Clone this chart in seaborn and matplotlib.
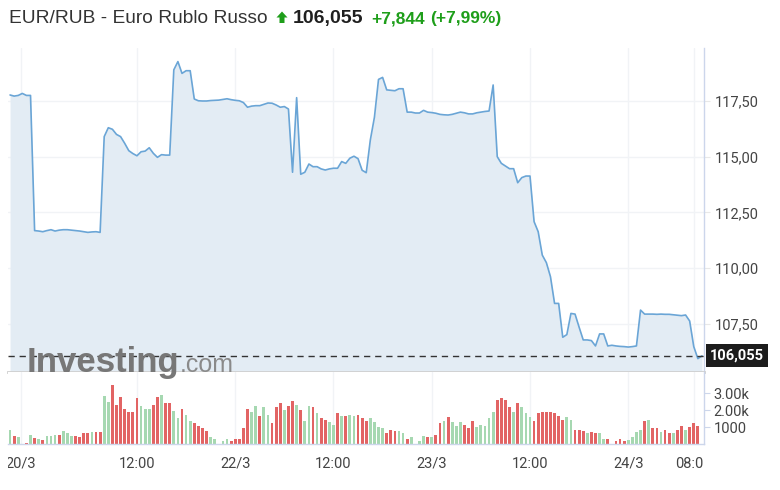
import numpy as np
import pandas as pd
import matplotlib.pyplot as plt
from matplotlib.patches import Polygon
from matplotlib.transforms import Bbox, TransformedBbox, blended_transform_factory
import seaborn as sns

# --- Data ---
TITLE = "EUR/RUB - Euro Rublo Russo"
LAST_PRICE = 106.055
LAST_PRICE_TEXT = "106,055"
CHANGE_TEXT = "+7,844"
CHANGE_PCT_TEXT = "(+7,99%)"

# close price, one value per 30 min slot
PRICE = [
    117.77, 117.72, 117.75, 117.84, 117.75, 117.75, 111.68, 111.66, 111.63, 111.68,
    111.72, 111.66, 111.70, 111.72, 111.72, 111.70, 111.68, 111.66, 111.63, 111.60,
    111.62, 111.63, 111.60, 115.90, 116.30, 116.23, 116.00, 115.90, 115.60, 115.27,
    115.14, 115.04, 115.22, 115.25, 115.40, 115.15, 114.97, 115.09, 115.07, 115.07,
    118.90, 119.27, 118.74, 118.86, 118.86, 117.59, 117.51, 117.50, 117.50, 117.52,
    117.53, 117.54, 117.57, 117.60, 117.56, 117.53, 117.51, 117.43, 117.22, 117.27,
    117.29, 117.29, 117.35, 117.41, 117.40, 117.32, 117.22, 117.25, 117.14, 114.30,
    117.65, 114.21, 114.30, 114.67, 114.55, 114.55, 114.45, 114.40, 114.45, 114.48,
    114.48, 114.78, 114.70, 114.93, 115.02, 114.91, 114.39, 114.28, 115.75, 116.77,
    118.47, 118.56, 118.00, 117.98, 117.96, 118.05, 118.05, 117.00, 117.00, 116.96,
    116.96, 117.08, 117.00, 116.98, 116.95, 116.90, 116.88, 116.87, 116.90, 116.95,
    117.00, 116.97, 116.92, 116.92, 116.97, 117.00, 117.03, 117.05, 118.22, 115.00,
    114.70, 114.58, 114.46, 114.46, 113.83, 114.06, 114.13, 114.13, 112.08, 111.63,
    110.58, 110.24, 109.61, 108.41, 108.41, 106.89, 107.01, 107.96, 107.93, 107.34,
    106.77, 106.77, 106.74, 106.50, 107.04, 107.04, 106.50, 106.53, 106.50, 106.48,
    106.47, 106.45, 106.47, 106.50, 108.11, 107.93, 107.93, 107.93, 107.92, 107.93,
    107.92, 107.92, 107.90, 107.88, 107.86, 107.89, 107.62, 106.47, 105.93, 106.055,
]

# volume in thousands, one bar per 30 min slot
VOLUME_K = [
    0.84, 0.47, 0.41, 0.0, 0.06, 0.55, 0.33, 0.31, 0.25, 0.47, 0.47, 0.55, 0.55, 0.76, 0.63,
    0.47, 0.47, 0.39, 0.63, 0.63, 0.71, 0.71, 0.71, 2.82, 2.47, 3.49, 2.31, 2.76, 2.08,
    1.86, 1.86, 2.69, 2.24, 2.08, 2.08, 2.31, 2.76, 2.90, 2.39, 2.39, 1.94, 1.51, 2.08,
    1.73, 1.35, 1.22, 1.06, 0.92, 0.76, 0.39, 0.31, 0.0, 0.18, 0.31, 0.18, 0.31, 0.31,
    0.92, 2.08, 1.86, 2.24, 1.65, 2.16, 1.73, 1.22, 2.16, 2.39, 1.98, 2.24, 2.53, 2.31,
    2.02, 1.35, 2.24, 2.16, 1.80, 1.51, 1.43, 1.27, 1.14, 1.80, 1.65, 1.65, 1.73, 1.65,
    1.73, 1.51, 1.35, 1.51, 1.27, 0.98, 0.92, 0.63, 0.84, 0.76, 0.76, 0.63, 0.31, 0.39,
    0.0, 0.18, 0.47, 0.39, 0.39, 0.55, 1.22, 1.35, 1.57, 1.27, 1.06, 1.27, 1.14, 0.92,
    1.35, 0.98, 1.14, 1.06, 1.51, 1.86, 2.61, 2.69, 2.61, 2.16, 1.86, 2.39, 2.16, 1.80,
    1.57, 1.35, 1.80, 1.86, 1.86, 1.86, 1.80, 1.65, 1.43, 1.57, 1.43, 0.84, 0.84, 0.76,
    0.63, 0.69, 0.63, 0.63, 0.31, 0.31, 0.0, 0.18, 0.31, 0.18, 0.25, 0.39, 0.69, 0.84,
    1.35, 1.43, 0.92, 0.92, 0.69, 0.84, 0.63, 0.63, 0.84, 1.06, 0.84, 0.98, 1.22, 1.06,
]

# G = up candle, R = down candle
BAR_DIRECTION = list(
    "GRGGRGRGRGGGRGGGRRRRGRRGGRRRR"
    "RRRGGGRRGRRGGRGGRRRRGGGGGRRR"
    "RRGGRGGRRRGRRGRGGRGRRGGRGRGG"
    "RRRGGGGRRRGGRGGGGRGRRGRGGGRR"
    "RGGGGGRRRRGRGGGRRRRRRRRGGRRR"
    "GRRGGRGRRRGGGGRGRRGRRGRRGRRR"
)

X_TICK_POS = [2.7, 31, 55, 79, 103, 127, 151, 167]
X_TICK_LABELS = ["20/3", "12:00", "22/3", "12:00", "23/3", "12:00", "24/3", "08:00"]
PRICE_TICKS = [107.5, 110.0, 112.5, 115.0, 117.5]
PRICE_TICK_LABELS = ["107,50", "110,00", "112,50", "115,00", "117,50"]
VOL_TICKS = [1000, 2000, 3000]
VOL_TICK_LABELS = ["1000", "2.00k", "3.00k"]

# --- Style ---
W, H = 780, 490
LINE_COLOR = "#6aa5d6"
FILL_COLOR = "#e3ecf4"
UP_COLOR = "#a6d8b1"
DOWN_COLOR = "#e26464"
GREEN_TEXT = "#1e9e1a"
AXIS_COLOR = "#ccd6eb"
TICK_TEXT = "#444444"

sns.set_style("white")
plt.rcParams["font.family"] = ["Roboto", "DejaVu Sans"]


def px(x, y):
    """pixel position (top-left origin) -> figure fraction"""
    return x / W, 1 - y / H


price_df = pd.DataFrame({"slot": np.arange(len(PRICE)), "price": PRICE})
vol_df = pd.DataFrame({
    "slot": np.arange(len(VOLUME_K)),
    "volume": np.array(VOLUME_K) * 1000,
    "direction": BAR_DIRECTION,
})

fig = plt.figure(figsize=(W / 100, H / 100), dpi=100)
left, right = 8, 704
ax1 = fig.add_axes([left / W, (H - 372) / H, (right - left) / W, (372 - 48) / H])
ax2 = fig.add_axes([left / W, (H - 444) / H, (right - left) / W, (444 - 372) / H])

y_bottom, y_top = 105.33, 119.88
x_min, x_max = -0.5, 169.5

# --- Price panel ---
ax1.fill_between(price_df["slot"], price_df["price"], y_bottom, color=FILL_COLOR, lw=0, zorder=1)
sns.lineplot(data=price_df, x="slot", y="price", ax=ax1, color=LINE_COLOR, lw=1.2, zorder=3)
ax1.axhline(LAST_PRICE, color="#333333", lw=1, dashes=(4.5, 3.5), zorder=4)
ax1.set_xlim(x_min, x_max)
ax1.set_ylim(y_bottom, y_top)
ax1.set_xticks(X_TICK_POS)
ax1.set_xticklabels([])
ax1.set_yticks(PRICE_TICKS)
ax1.set_yticklabels(PRICE_TICK_LABELS)
ax1.yaxis.tick_right()
ax1.tick_params(axis="y", length=4, color="#e8e8e8", pad=4, labelsize=10.5, labelcolor=TICK_TEXT)
ax1.tick_params(axis="x", length=0)
ax1.grid(True, axis="both", color="#f1f3f6", lw=1)
ax1.set_axisbelow(True)
ax1.set_xlabel("")
ax1.set_ylabel("")
for side in ["top", "left"]:
    ax1.spines[side].set_visible(False)
ax1.spines["right"].set_color(AXIS_COLOR)
ax1.spines["right"].set_linewidth(1)
ax1.spines["bottom"].set_color("#cfcfcf")
ax1.spines["bottom"].set_linewidth(2)

# current price tag
trans = blended_transform_factory(ax1.transAxes, ax1.transData)
ax1.text(1.0 + 6 / (right - left), LAST_PRICE, LAST_PRICE_TEXT, transform=trans,
         ha="left", va="center", color="white", fontsize=10.5, fontweight="bold",
         bbox=dict(boxstyle="square,pad=0.3", fc="#1c1c1c", ec="none"), clip_on=False, zorder=6)

# --- Volume panel ---
sns.barplot(data=vol_df, x="slot", y="volume", hue="direction",
            palette={"G": UP_COLOR, "R": DOWN_COLOR}, dodge=False, width=0.68,
            legend=False, ax=ax2, saturation=1, linewidth=0)
ax2.set_xlim(x_min, x_max)
ax2.set_ylim(0, 72 / 17 * 1000)
ax2.set_xticks(X_TICK_POS)
ax2.set_xticklabels(X_TICK_LABELS)
ax2.set_yticks(VOL_TICKS)
ax2.set_yticklabels(VOL_TICK_LABELS)
ax2.yaxis.tick_right()
ax2.tick_params(axis="y", length=4, color=AXIS_COLOR, pad=3, labelsize=10.5, labelcolor=TICK_TEXT)
ax2.tick_params(axis="x", length=5, color=AXIS_COLOR, pad=4, labelsize=10.5, labelcolor=TICK_TEXT)
ax2.xaxis.grid(True, color="#f1f3f6", lw=1)
ax2.yaxis.grid(False)
ax2.set_axisbelow(True)
ax2.set_xlabel("")
ax2.set_ylabel("")
for side in ["top", "left"]:
    ax2.spines[side].set_visible(False)
for side in ["right", "bottom"]:
    ax2.spines[side].set_color(AXIS_COLOR)
    ax2.spines[side].set_linewidth(1)

# labels at the edges are cut by the plot area
clip = TransformedBbox(Bbox([[px(8, 0)[0], 0], [px(704, 0)[0], 1]]), fig.transFigure)
for lbl in ax2.get_xticklabels():
    lbl.set_clip_on(True)
    lbl.set_clip_box(clip)

# --- Watermark ---
fig.text(*px(27, 372), "Investing", fontsize=25, fontweight="bold", color="#777777",
         family=["Liberation Sans", "DejaVu Sans"], va="baseline", zorder=10)
fig.text(*px(180, 372), ".com", fontsize=18, color="#8a8a8a",
         family=["Liberation Sans", "DejaVu Sans"], va="baseline", zorder=10)

# --- Header ---
title_font = ["Liberation Sans", "DejaVu Sans"]
fig.text(*px(9, 23), TITLE, fontsize=13.75, color="#333333", family=title_font, va="baseline")
arrow = [px(282, 11.5), px(287.5, 17.5), px(284.5, 17.5), px(284.5, 23),
         px(279.5, 23), px(279.5, 17.5), px(276.5, 17.5)]
fig.add_artist(Polygon(arrow, closed=True, transform=fig.transFigure, fc=GREEN_TEXT, ec="none"))
fig.text(*px(293, 23), LAST_PRICE_TEXT, fontsize=14, fontweight="bold", color="#1f1f1f",
         family=title_font, va="baseline")
fig.text(*px(371, 23), CHANGE_TEXT, fontsize=12.5, fontweight="bold", color=GREEN_TEXT,
         family=title_font, va="baseline")
fig.text(*px(430, 23), CHANGE_PCT_TEXT, fontsize=12.5, fontweight="bold", color=GREEN_TEXT,
         family=title_font, va="baseline")

fig.savefig("out.png", dpi=100)
